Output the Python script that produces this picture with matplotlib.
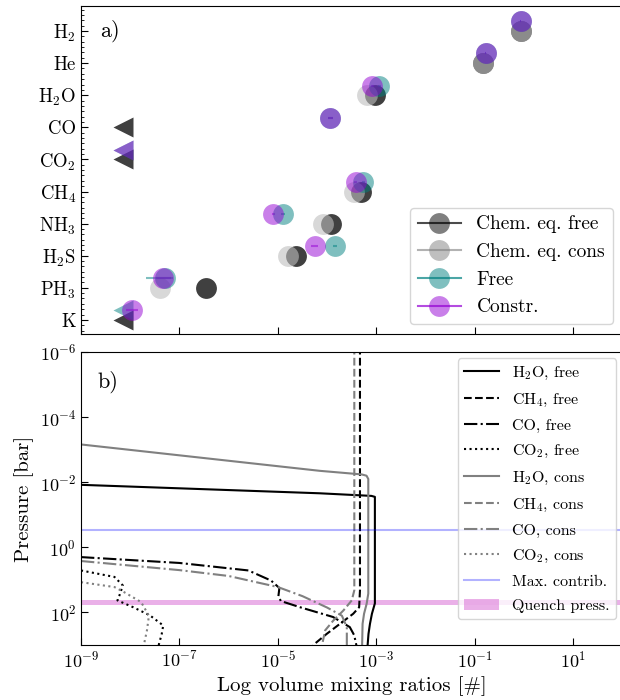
import numpy as np
import matplotlib
matplotlib.use('Agg')
import matplotlib.pyplot as plt
from matplotlib.lines import Line2D
from matplotlib.ticker import AutoMinorLocator, NullLocator

plt.rcParams['font.family'] = ['cmr10', 'DejaVu Serif']
plt.rcParams['mathtext.fontset'] = 'cm'
plt.rcParams['axes.formatter.use_mathtext'] = True
plt.rcParams['font.size'] = 13

# panel a) retrieved abundances, log10 VMR (limits drawn as '<')
species = ['K', 'PH$_3$', 'H$_2$S', 'NH$_3$', 'CH$_4$', 'CO$_2$', 'CO', 'H$_2$O', 'He', 'H$_2$']
chem_free = [-8.15, -6.46, -4.63, -3.93, -3.31, -8.15, -8.15, -3.03, -0.83, -0.07]
chem_free_lim = [True, False, False, False, False, True, True, False, False, False]
chem_cons = [np.nan, -7.40, -4.80, -4.08, -3.45, np.nan, np.nan, -3.20, -0.83, -0.07]
free = [-8.15, -7.29, -3.84, -4.90, -3.27, -8.15, -3.94, -2.94, -0.78, -0.07]
free_lim = [True, False, False, False, False, True, False, False, False, False]
free_err_lo = [0, 0.38, 0.05, 0.04, 0.03, 0, 0.05, 0.03, 0.01, 0.01]
free_err_hi = [0, 0.15, 0.05, 0.04, 0.03, 0, 0.05, 0.03, 0.01, 0.01]
constr = [-7.97, -7.33, -4.25, -5.09, -3.42, -8.15, -3.94, -3.08, -0.78, -0.07]
constr_lim = [False, False, False, False, False, True, False, False, False, False]
constr_err = [0.12, 0.15, 0.07, 0.04, 0.03, 0, 0.05, 0.03, 0.01, 0.01]

# panel b) abundance profiles, (log10 VMR, log10 P[bar])
h2o_free_x = [-9, -4.15, -3.1, -3.03, -3.03, -3.09, -3.13, -3.16, -3.18]
h2o_free_p = [-1.92, -1.66, -1.58, -1.55, 1.72, 2.04, 2.35, 2.66, 3.05]
ch4_free_x = [-3.333, -3.333, -3.35, -3.47, -3.74, -4.01, -4.25, -4.3]
ch4_free_p = [-6.5, 1.32, 1.84, 2.04, 2.35, 2.66, 2.96, 3.05]
co_free_x = [-9, -7, -5.6, -5.14, -4.97, -4.99, -4.94, -4.55, -3.88, -3.54, -3.45, -3.40]
co_free_p = [0.30, 0.48, 0.71, 1.02, 1.25, 1.5, 1.65, 1.84, 2.14, 2.45, 2.7, 3.05]
co2_free_x = [-9, -8.32, -8.15, -8.22, -8.26, -7.94, -7.60, -7.33, -7.36, -7.43]
co2_free_p = [0.71, 0.91, 1.17, 1.48, 1.63, 1.84, 2.09, 2.4, 2.66, 3.05]

h2o_cons_x = [-9, -4.15, -3.3, -3.2, -3.164, -3.164, -3.197, -3.25, -3.28, -3.29]
h2o_cons_p = [-3.16, -2.35, -2.24, -2.2, -2.1, 1.42, 1.73, 2.04, 2.35, 3.05]
ch4_cons_x = [-3.448, -3.448, -3.50, -3.67, -3.875, -4.04, -4.11]
ch4_cons_p = [-6.5, 1.32, 1.63, 1.94, 2.25, 2.55, 3.05]
co_cons_x = [-9, -7, -6, -5, -4.5, -4.0, -3.7, -3.6, -3.6]
co_cons_p = [0.42, 0.70, 0.88, 1.22, 1.5, 1.85, 2.1, 2.45, 3.05]
co2_cons_x = [-9, -8.32, -8.12, -7.78, -7.62, -7.66, -7.73]
co2_cons_p = [1.07, 1.22, 1.38, 1.68, 2.1, 2.55, 3.05]

max_contrib = 0.285
quench_lo, quench_hi = 10**1.62, 10**1.77

fig = plt.figure(figsize=(6.2, 7.0), dpi=100)
ax1 = fig.add_axes([81/620, 1-334/700, 541.5/620, 328/700])
ax2 = fig.add_axes([81/620, 1-645/700, 541.5/620, 293/700])

ypos = np.arange(len(species))
def plot_series(vals, lims, yoff, color, alpha, xerr=None):
    vals = np.array(vals, float)
    lims = np.array(lims)
    ok = ~lims
    if xerr is None:
        ax1.plot(vals[ok], ypos[ok] + yoff, 'o', ms=15, color=color, alpha=alpha, mec='none')
    else:
        xerr = np.array(xerr)[:, ok]
        ax1.errorbar(vals[ok], ypos[ok] + yoff, xerr=xerr, fmt='o', ms=15, color=color,
                     alpha=alpha, mec='none', elinewidth=1.5)
    ax1.plot(vals[lims], ypos[lims] + yoff, '<', ms=14, color=color, alpha=alpha, mec='none')

teal = (0, 0.5, 0.5)
purple = (0.58, 0, 0.83)
plot_series(chem_free, chem_free_lim, 0, 'k', 0.75)
plot_series(chem_cons, [False]*10, 0, '#bebebe', 0.6)
plot_series(free, free_lim, 0.3, teal, 0.5, xerr=[free_err_lo, free_err_hi])
plot_series(constr, constr_lim, 0.3, purple, 0.5, xerr=[constr_err, constr_err])

ax1.set_xlim(-9, np.log10(1e2))
ax1.set_ylim(-0.44, 9.78)
ax1.set_yticks(ypos)
ax1.set_yticklabels(species, fontsize=13.5)
ax1.set_xticks(np.arange(-9, 2, 2))
ax1.set_xticklabels([])
ax1.yaxis.set_minor_locator(AutoMinorLocator(6))
ax1.tick_params(direction='in', length=5)
ax1.tick_params(which='minor', direction='in', length=2.5)
ax1.text(0.035, 0.925, 'a)', transform=ax1.transAxes, fontsize=16, va='center')

handles = [
    Line2D([0], [0], color=(0, 0, 0, 0.7), lw=1.5, marker='o', ms=15, mfc=(0, 0, 0, 0.5), mec='none'),
    Line2D([0], [0], color=(0.5, 0.5, 0.5, 0.6), lw=1.5, marker='o', ms=15, mfc=(0.5, 0.5, 0.5, 0.5), mec='none'),
    Line2D([0], [0], color=teal + (0.7,), lw=1.5, marker='o', ms=15, mfc=teal + (0.5,), mec='none'),
    Line2D([0], [0], color=purple + (0.7,), lw=1.5, marker='o', ms=15, mfc=purple + (0.5,), mec='none'),
]
ax1.legend(handles, ['Chem. eq. free', 'Chem. eq. cons', 'Free', 'Constr.'],
           loc='lower right', fontsize=14, handlelength=2.2)

# panel b
def prof(xs, ps, **kw):
    ax2.plot(10**np.array(xs), 10**np.array(ps), lw=1.5, **kw)

prof(h2o_free_x, h2o_free_p, color='k', ls='-', label='H$_2$O, free')
prof(ch4_free_x, ch4_free_p, color='k', ls='--', label='CH$_4$, free')
prof(co_free_x, co_free_p, color='k', ls='-.', label='CO, free')
prof(co2_free_x, co2_free_p, color='k', ls=':', label='CO$_2$, free')
prof(h2o_cons_x, h2o_cons_p, color='gray', ls='-', label='H$_2$O, cons')
prof(ch4_cons_x, ch4_cons_p, color='gray', ls='--', label='CH$_4$, cons')
prof(co_cons_x, co_cons_p, color='gray', ls='-.', label='CO, cons')
prof(co2_cons_x, co2_cons_p, color='gray', ls=':', label='CO$_2$, cons')
ax2.axhline(max_contrib, color='blue', alpha=0.3, lw=1.5, label='Max. contrib.')
ax2.axhspan(quench_lo, quench_hi, color='orchid', alpha=0.55, lw=0, label='Quench press.')

ax2.set_xscale('log')
ax2.set_yscale('log')
ax2.set_xlim(1e-9, 1e2)
ax2.set_ylim(1e3, 1e-6)
ax2.set_xticks([1e-9, 1e-7, 1e-5, 1e-3, 1e-1, 1e1])
ax2.set_yticks([1e-6, 1e-4, 1e-2, 1e0, 1e2])
ax2.xaxis.set_minor_locator(NullLocator())
ax2.yaxis.set_minor_locator(NullLocator())
ax2.tick_params(direction='in', length=5)
ax2.set_xlabel('Log volume mixing ratios [#]', fontsize=15)
ax2.set_ylabel('Pressure [bar]', fontsize=15)
ax2.text(0.03, 0.898, 'b)', transform=ax2.transAxes, fontsize=16, va='center')
ax2.legend(loc='upper right', fontsize=11.5, handlelength=2.2, labelspacing=0.62,
           borderaxespad=0.4)

fig.savefig('out.png', dpi=100)
